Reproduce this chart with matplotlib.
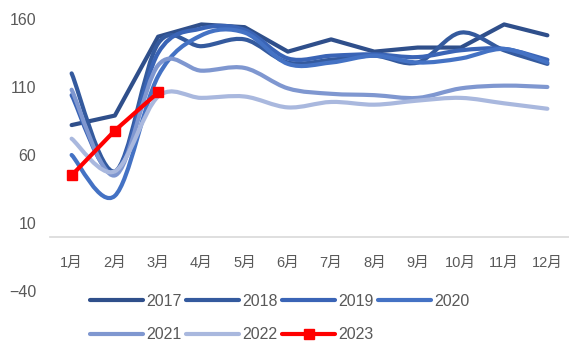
import matplotlib
matplotlib.use("Agg")
import matplotlib.pyplot as plt
from matplotlib.path import Path
from matplotlib.patches import PathPatch
from matplotlib.lines import Line2D

MONTHS = ["1月", "2月", "3月", "4月", "5月", "6月", "7月", "8月", "9月", "10月", "11月", "12月"]
Y_TICKS = [-40, 10, 60, 110, 160]

V2017 = [82, 89, 147, 156, 154, 136, 145, 136, 139, 139, 156, 148]
V2018 = [120, 48, 142, 140, 145, 128, 130, 133, 128, 150, 137, 127]
V2019 = [104, 47, 135, 153, 152, 131, 133, 134, 132, 137, 138, 130]
V2020 = [60, 30, 118, 148, 150, 127, 128, 133, 128, 131, 138, 128]
V2021 = [108, 45, 126, 122, 124, 109, 105, 104, 102, 109, 111, 110]
V2022 = [72, 48, 103, 102, 103, 95, 99, 97, 100, 102, 98, 94]
V2023 = [45, 78, 106]

COLORS = {
    "2017": "#2F4F8B",
    "2018": "#345A9E",
    "2019": "#3A64B6",
    "2020": "#4472C4",
    "2021": "#7F97D0",
    "2022": "#A9B8DE",
    "2023": "#FF0000",
}
GRAY = "#595959"
LW = 3.0

plt.rcParams["font.family"] = ["Liberation Sans", "Noto Sans CJK SC", "DejaVu Sans"]


def smooth_path(xs, ys):
    """Bezier path through the points, Catmull-Rom style (like spreadsheet 'smoothed line')."""
    pts = list(zip(xs, ys))
    verts = [pts[0]]
    codes = [Path.MOVETO]
    n = len(pts)
    for i in range(n - 1):
        p0 = pts[max(i - 1, 0)]
        p1 = pts[i]
        p2 = pts[i + 1]
        p3 = pts[min(i + 2, n - 1)]
        c1 = (p1[0] + (p2[0] - p0[0]) / 6, p1[1] + (p2[1] - p0[1]) / 6)
        c2 = (p2[0] - (p3[0] - p1[0]) / 6, p2[1] - (p3[1] - p1[1]) / 6)
        verts += [c1, c2, p2]
        codes += [Path.CURVE4] * 3
    return Path(verts, codes)


fig = plt.figure(figsize=(5.69, 3.45), dpi=100)
ax = fig.add_axes([50 / 569, 1 - 291 / 345, 1 - 50 / 569, 272 / 345])

x = list(range(1, 13))

# 2017 is drawn with straight segments
ax.plot(x, V2017, color=COLORS["2017"], lw=LW, solid_capstyle="round",
        solid_joinstyle="round", zorder=3)

for name, vals in (("2018", V2018), ("2019", V2019), ("2020", V2020),
                   ("2021", V2021), ("2022", V2022)):
    patch = PathPatch(smooth_path(x, vals), fill=False, edgecolor=COLORS[name],
                      lw=LW, capstyle="round", joinstyle="round", zorder=3)
    ax.add_patch(patch)

ax.plot(x[:len(V2023)], V2023, color=COLORS["2023"], lw=LW, marker="s",
        markersize=7, solid_capstyle="round", zorder=4)

ax.set_xlim(0.5, 12.5)
ax.set_ylim(-40, 160)
ax.set_yticks(Y_TICKS)
ax.set_xticks(x)
ax.set_xticklabels(MONTHS, family=["Noto Sans CJK SC"])
ax.tick_params(axis="x", length=0, pad=14, labelsize=10.5, colors=GRAY)
ax.tick_params(axis="y", length=0, pad=10, labelsize=11.5, colors=GRAY)

for side in ("top", "right", "left"):
    ax.spines[side].set_visible(False)
ax.spines["bottom"].set_position(("data", 0))
ax.spines["bottom"].set_color("#D9D9D9")
ax.spines["bottom"].set_linewidth(1.2)

handles = {}
for name in ("2017", "2018", "2019", "2020", "2021", "2022"):
    handles[name] = Line2D([], [], color=COLORS[name], lw=LW, solid_capstyle="round")
handles["2023"] = Line2D([], [], color=COLORS["2023"], lw=LW, marker="s",
                         markersize=7, solid_capstyle="round")

# legend is filled column by column, so interleave to read row-wise
order = ["2017", "2021", "2018", "2022", "2019", "2023", "2020"]
fig.legend([handles[k] for k in order], order, loc="upper left",
           bbox_to_anchor=(90 / 569, 1 - 294 / 345), ncol=4, frameon=False,
           fontsize=11.5, handlelength=3.3, handletextpad=0.2, columnspacing=0.3,
           labelspacing=1.15, borderpad=0, borderaxespad=0, labelcolor=GRAY)

fig.savefig("out.png", dpi=100)
